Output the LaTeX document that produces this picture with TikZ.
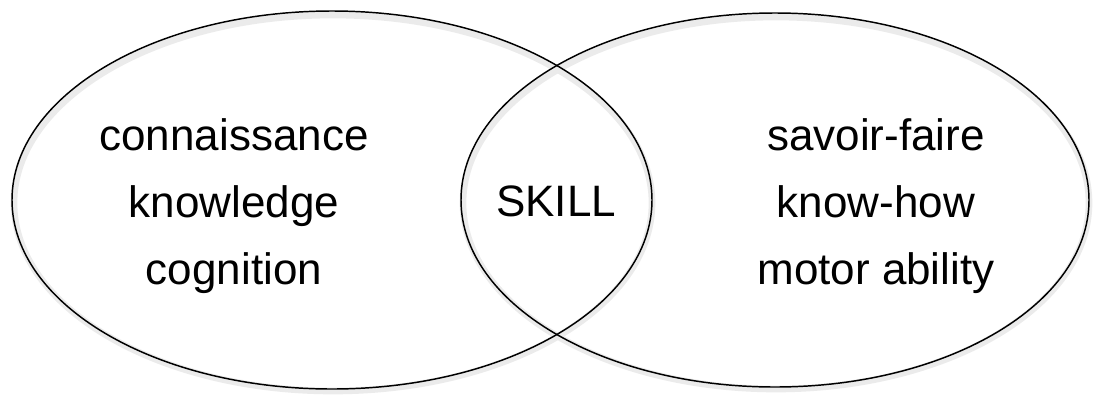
\documentclass[tikz,border=0pt]{standalone}
\usepackage{fontspec}
\setmainfont{Liberation Sans}
\usepackage{tikz}
\usetikzlibrary{positioning}
\definecolor{InkBlack}{HTML}{000000}
\definecolor{GlowGray}{HTML}{EBEBEB}

\begin{document}
\begin{tikzpicture}[x=0.75pt, y=-0.75pt,
  every node/.style={font=\fontsize{33}{50}\selectfont, align=center, text=InkBlack}]
  \useasboundingbox (0,0) rectangle (1093,394);

  % Soft glow under the outlines
  \draw[line width=5pt, GlowGray] (333,203) ellipse [x radius=319, y radius=188];
  \draw[line width=5pt, GlowGray] (776,203) ellipse [x radius=313, y radius=186];

  % Two overlapping sets
  \draw[line width=1.1pt, InkBlack] (332,200) ellipse [x radius=320, y radius=189];
  \draw[line width=1.1pt, InkBlack] (775,200) ellipse [x radius=314, y radius=187];

  % Labels
  \node (know) at (234,206) {connaissance\\knowledge\\cognition};
  \node (skill) at (556,201) {SKILL};
  \node (how) at (876,206) {savoir-faire\\know-how\\motor ability};
\end{tikzpicture}
\end{document}
